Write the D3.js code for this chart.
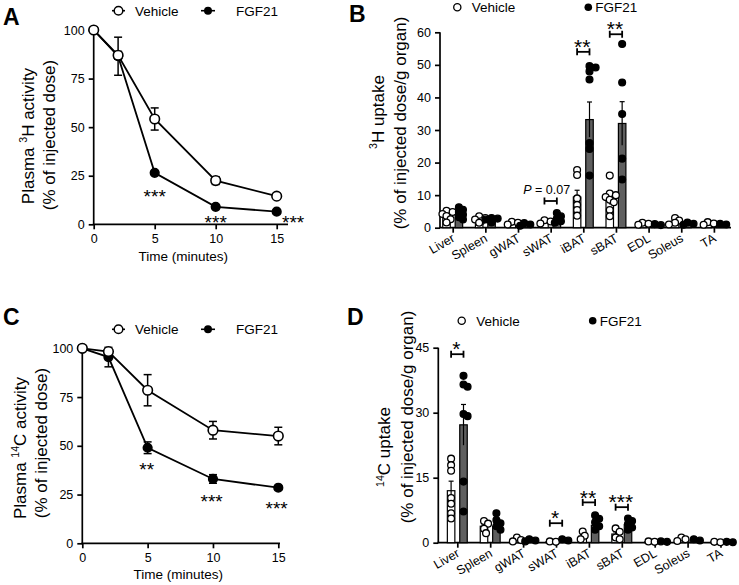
<!DOCTYPE html>
<html><head><meta charset="utf-8">
<script src="https://cdn.jsdelivr.net/npm/d3@7"></script>
<style>
body{margin:0;background:#fff}
svg{display:block}
text{font-family:Arial,"Liberation Sans",sans-serif;fill:#000}
</style></head>
<body><svg id="c" width="739" height="585"></svg>
<script>
// ---------------- DATA ----------------
const timePoints = [0, 2, 5, 10, 15];
const timeTicks = [0, 5, 10, 15];
const plasmaTicks = [0, 25, 50, 75, 100];

// Panel A: plasma 3H activity (% of injected dose)
const vehA = [100, 87, 54.2, 22.5, 14.5];
const vehASem = [0, 2, 5.7, 2, 1];
const fgfA = [100, 86.5, 26.5, 9, 6.5];
const fgfASem = [0, 9.8, 1, 1, 1];
const starsA = [{t: 5, v: 16.8, s: "***"}, {t: 10, v: 3.4, s: "***"}, {t: 16.35, v: 3.4, s: "***"}];

// Panel C: plasma 14C activity
const vehC = [100, 98.3, 78.5, 58, 55];
const vehCSem = [0, 1, 8, 4.5, 4.5];
const fgfC = [100, 95.5, 49, 33, 28.5];
const fgfCSem = [0, 5, 3, 2.2, 1];
const starsC = [{t: 4.93, v: 40.2, s: "**"}, {t: 9.9, v: 23.9, s: "***"}, {t: 14.87, v: 20.5, s: "***"}];

// Organs
const organs = ["Liver", "Spleen", "gWAT", "sWAT", "iBAT", "sBAT", "EDL", "Soleus", "TA"];

// Panel B: 3H uptake
const ticksB = [0, 10, 20, 30, 40, 50, 60];
const vehBMean = [4.0, 2.6, 1.4, 1.8, 9.4, 8.4, 1.2, 2.0, 1.2];
const vehBSem = [0.5, 0.3, 0.2, 0.2, 2.1, 1.3, 0.15, 0.3, 0.15];
const fgfBMean = [4.3, 2.5, 1.0, 2.6, 33.2, 32.0, 1.0, 1.2, 1.0];
const fgfBSem = [0.6, 0.3, 0.15, 0.5, 5.4, 6.7, 0.1, 0.15, 0.1];
const vehBPts = [
  [5.2, 4.8, 4.2, 3.6, 2.6, 1.6], [3.5, 3.0, 2.5, 2.0, 1.5], [1.8, 1.5, 1.0],
  [2.3, 1.9, 1.3], [17.7, 16.2, 9.0, 7.0, 5.4, 3.7],
  [16.0, 10.5, 10.0, 9.4, 8.6, 7.8, 5.4, 3.5], [1.5, 1.2, 0.9], [3.0, 2.2, 1.5, 1.0], [1.7, 1.3, 0.9]
];
const fgfBPts = [
  [6.3, 5.5, 4.8, 4.0, 3.2, 2.5], [3.0, 2.8, 2.5, 2.0, 1.6], [1.4, 1.0, 0.6],
  [4.5, 3.5, 2.8, 2.0, 1.5], [49.6, 49.2, 48.0, 45.5, 26.0, 24.2, 16.0],
  [56.4, 44.6, 34.9, 21.2, 14.8], [1.1, 0.8], [1.6, 1.2, 0.9], [1.2, 1.0]
];
const sigB = [{organ: "sWAT", v: 8.2, label: "P = 0.07"}, {organ: "iBAT", v: 54, label: "**"}, {organ: "sBAT", v: 59.4, label: "**"}];

// Panel D: 14C uptake
const ticksD = [0, 15, 30, 45];
const vehDMean = [12.0, 3.8, 0.7, 0.25, 1.5, 2.0, 0.2, 0.7, 0.15];
const vehDSem = [2.2, 0.5, 0.2, 0.05, 0.4, 0.5, 0.05, 0.15, 0.05];
const fgfDMean = [27.2, 3.8, 0.5, 0.6, 4.0, 4.2, 0.25, 0.6, 0.15];
const fgfDSem = [4.7, 0.5, 0.1, 0.1, 0.6, 0.5, 0.05, 0.1, 0.05];
const vehDPts = [
  [19.4, 17.9, 16.6, 10.3, 9.0, 6.8, 5.6], [5.0, 4.4, 3.2, 2.2], [1.2, 0.6, 0.3],
  [0.3, 0.2], [2.6, 1.6, 0.8], [3.3, 2.5, 1.2, 0.8], [0.3, 0.2], [1.2, 0.8, 0.4], [0.2, 0.1]
];
const fgfDPts = [
  [38.5, 36.5, 36.0, 29.7, 29.2, 14.1, 7.2], [6.8, 5.2, 4.5, 3.8, 3.0], [0.8, 0.5, 0.3],
  [0.8, 0.5], [6.3, 5.5, 4.7, 3.8, 3.0], [5.6, 5.0, 4.3, 3.5, 3.0], [0.3, 0.2], [0.8, 0.5], [0.2, 0.1]
];
const sigD = [{organ: "Liver", v: 43.5, label: "*"}, {organ: "sWAT", v: 4.5, label: "*"}, {organ: "iBAT", v: 9.3, label: "**"}, {organ: "sBAT", v: 8.2, label: "***"}];

// ---------------- DRAWING ----------------
const svg = d3.select("#c");
const AX = 1.7;

function starText(g, x, yc, s, fs) {
  g.append("text").attr("x", x).attr("y", yc + fs * 0.6).attr("text-anchor", "middle")
    .attr("font-size", fs).text(s);
}

function yTitle(g, x, cy, pre, sup, post, fs) {
  const t = g.append("text").attr("transform", `translate(${x},${cy}) rotate(-90)`)
    .attr("text-anchor", "middle").attr("font-size", fs);
  if (pre) t.append("tspan").text(pre);
  t.append("tspan").attr("font-size", fs * 0.62).attr("dy", -fs * 0.36).text(sup);
  t.append("tspan").attr("dy", fs * 0.36).text(post);
}
function yTitle2(g, x, cy, txt, fs) {
  g.append("text").attr("transform", `translate(${x},${cy}) rotate(-90)`)
    .attr("text-anchor", "middle").attr("font-size", fs).text(txt);
}

function lineChart(o) {
  const g = svg.append("g");
  const x = d3.scaleLinear().domain([0, 15]).range(o.xr);
  const y = d3.scaleLinear().domain([0, 100]).range(o.yr);
  const ya = g.append("g").attr("transform", `translate(${o.xr[0]},0)`)
    .call(d3.axisLeft(y).tickValues(plasmaTicks).tickSize(5).tickPadding(4).tickSizeOuter(0));
  const xa = g.append("g").attr("transform", `translate(0,${o.yr[0]})`)
    .call(d3.axisBottom(x).tickValues(timeTicks).tickSize(5).tickPadding(5).tickSizeOuter(0));
  [ya, xa].forEach(a => {
    a.selectAll("path.domain").remove();
    a.selectAll("line").attr("stroke-width", AX);
    a.selectAll("text").attr("font-size", 12.5).attr("font-family", "Arial,'Liberation Sans',sans-serif");
  });
  g.append("line").attr("x1", o.xr[0]).attr("x2", o.xr[0]).attr("y1", o.yr[0]).attr("y2", o.yr[1]).attr("stroke", "#000").attr("stroke-width", AX);
  g.append("line").attr("x1", o.xr[0] - AX / 2).attr("x2", o.xEnd).attr("y1", o.yr[0]).attr("y2", o.yr[0]).attr("stroke", "#000").attr("stroke-width", AX);
  g.append("text").attr("x", (o.xr[0] + o.xr[1]) / 2 - 2).attr("y", o.xTitleY).attr("text-anchor", "middle").attr("font-size", 13.5).text("Time (minutes)");
  yTitle(g, o.t1x, o.t1cy, o.pre, o.sup, o.post, 17);
  yTitle2(g, o.t2x, o.t2cy, "(% of injected dose)", 17);
  g.append("text").attr("x", o.letterX).attr("y", o.letterY).attr("font-size", 23).attr("font-weight", "bold").text(o.letter);

  const series = [
    {m: o.fgf, s: o.fgfSem, filled: true},
    {m: o.veh, s: o.vehSem, filled: false}
  ];
  series.forEach(se => {
    timePoints.forEach((t, i) => {
      if (se.s[i] <= 0) return;
      const cx = x(t), yt = y(se.m[i] + se.s[i]), yb = y(se.m[i] - se.s[i]);
      g.append("line").attr("x1", cx).attr("x2", cx).attr("y1", yt).attr("y2", yb).attr("stroke", "#000").attr("stroke-width", 1.5);
      [yt, yb].forEach(yy => g.append("line").attr("x1", cx - 4).attr("x2", cx + 4).attr("y1", yy).attr("y2", yy).attr("stroke", "#000").attr("stroke-width", 1.5));
    });
  });
  const line = d3.line().x((d, i) => x(timePoints[i])).y(d => y(d));
  series.forEach(se => g.append("path").attr("d", line(se.m)).attr("fill", "none").attr("stroke", "#000").attr("stroke-width", 1.8));
  series.forEach(se => {
    g.selectAll(null).data(se.m).enter().append("circle")
      .attr("cx", (d, i) => x(timePoints[i])).attr("cy", d => y(d))
      .attr("r", se.filled ? 4.3 : 4.8)
      .attr("fill", se.filled ? "#000" : "#fff").attr("stroke", "#000").attr("stroke-width", 1.6);
  });
  o.stars.forEach(s => starText(g, x(s.t), y(s.v), s.s, 19));
  const ly = o.legendY;
  g.append("line").attr("x1", 112).attr("x2", 125).attr("y1", ly).attr("y2", ly).attr("stroke", "#000").attr("stroke-width", 1.6);
  g.append("circle").attr("cx", 118.5).attr("cy", ly).attr("r", 4.3).attr("fill", "#fff").attr("stroke", "#000").attr("stroke-width", 1.5);
  g.append("text").attr("x", 135).attr("y", ly + 4.8).attr("font-size", 13.5).text("Vehicle");
  g.append("line").attr("x1", 201).attr("x2", 215).attr("y1", ly).attr("y2", ly).attr("stroke", "#000").attr("stroke-width", 1.6);
  g.append("circle").attr("cx", 208).attr("cy", ly).attr("r", 4).attr("fill", "#000");
  g.append("text").attr("x", 236).attr("y", ly + 4.8).attr("font-size", 13.5).text("FGF21");
}

function dodge(vals, y, r) {
  const placed = [];
  const sorted = vals.slice().sort((a, b) => b - a);
  const steps = [0, 1, -1, 2, -2, 3, -3].map(k => k * r * 0.6);
  return sorted.map(v => {
    const py = y(v);
    let off = 0;
    for (const c of steps) {
      if (placed.every(p => Math.hypot(p.x - c, p.y - py) >= 2 * r * 0.65)) { off = c; break; }
    }
    placed.push({x: off, y: py});
    return {v, dx: off, py};
  });
}

function barChart(o) {
  const g = svg.append("g");
  const x = d3.scalePoint().domain(organs).range(o.xr);
  const y = d3.scaleLinear().domain([0, o.ymax]).range(o.yr);
  const ya = g.append("g").attr("transform", `translate(${o.axisX},0)`)
    .call(d3.axisLeft(y).tickValues(o.ticks).tickSize(5).tickPadding(4).tickSizeOuter(0));
  const xa = g.append("g").attr("transform", `translate(0,${o.yr[0]})`)
    .call(d3.axisBottom(x).tickSize(5).tickSizeOuter(0));
  [ya, xa].forEach(a => {
    a.selectAll("path.domain").remove();
    a.selectAll("line").attr("stroke-width", AX);
  });
  ya.selectAll("text").attr("font-size", 12.5).attr("font-family", "Arial,'Liberation Sans',sans-serif");
  xa.selectAll("text").remove();
  organs.forEach(c => {
    g.append("text").attr("transform", `translate(${x(c) + o.lblDx},${o.yr[0] + o.lblDy}) rotate(-30)`)
      .attr("text-anchor", "end").attr("font-size", 12.5).text(c);
  });
  g.append("line").attr("x1", o.axisX).attr("x2", o.axisX).attr("y1", o.yr[0]).attr("y2", o.yr[1]).attr("stroke", "#000").attr("stroke-width", AX);
  g.append("line").attr("x1", o.axisX - AX / 2).attr("x2", o.xEnd).attr("y1", o.yr[0]).attr("y2", o.yr[0]).attr("stroke", "#000").attr("stroke-width", AX);

  yTitle(g, o.t1x, o.t1cy, "", o.sup, o.post, 17);
  yTitle2(g, o.t2x, o.t2cy, "(% of injected dose/g organ)", 17);
  g.append("text").attr("x", o.letterX).attr("y", o.letterY).attr("font-size", 23).attr("font-weight", "bold").text(o.letter);

  const bw = 7.5, off = 6.2, r = 3.4;
  const groups = [
    {mean: o.vm, sem: o.vs, pts: o.vp, dx: -off, fill: "#fff", dot: "#fff"},
    {mean: o.fm, sem: o.fs, pts: o.fp, dx: off, fill: "#5f5f5f", dot: "#000"}
  ];
  groups.forEach(gr => {
    organs.forEach((c, i) => {
      const cx = x(c) + gr.dx;
      g.append("rect").attr("x", cx - bw / 2).attr("y", y(gr.mean[i])).attr("width", bw)
        .attr("height", y(0) - y(gr.mean[i])).attr("fill", gr.fill).attr("stroke", "#000").attr("stroke-width", 1.2);
      const yt = y(gr.mean[i] + gr.sem[i]), yb = y(Math.max(0, gr.mean[i] - gr.sem[i]));
      g.append("line").attr("x1", cx).attr("x2", cx).attr("y1", yt).attr("y2", yb).attr("stroke", "#000").attr("stroke-width", 1.2);
      g.append("line").attr("x1", cx - 2.5).attr("x2", cx + 2.5).attr("y1", yt).attr("y2", yt).attr("stroke", "#000").attr("stroke-width", 1.2);
    });
  });
  groups.forEach(gr => {
    organs.forEach((c, i) => {
      const cx = x(c) + gr.dx;
      dodge(gr.pts[i], y, r).forEach(p => {
        g.append("circle").attr("cx", cx + p.dx).attr("cy", p.py).attr("r", r)
          .attr("fill", gr.dot).attr("stroke", "#000").attr("stroke-width", 1.3);
      });
    });
  });
  o.sig.forEach(s => {
    const x1 = x(s.organ) - off, x2 = x(s.organ) + off, yy = y(s.v);
    g.append("line").attr("x1", x1).attr("x2", x2).attr("y1", yy).attr("y2", yy).attr("stroke", "#000").attr("stroke-width", 1.8);
    [x1, x2].forEach(xx => g.append("line").attr("x1", xx).attr("x2", xx).attr("y1", yy - 3.5).attr("y2", yy + 3.5).attr("stroke", "#000").attr("stroke-width", 1.8));
    if (s.label.startsWith("P")) {
      const t = g.append("text").attr("x", x(s.organ) - 4).attr("y", yy - 7).attr("text-anchor", "middle").attr("font-size", 12.5);
      t.append("tspan").attr("font-style", "italic").text("P");
      t.append("tspan").text(s.label.slice(1));
    } else {
      starText(g, x(s.organ) - 1, yy - 10.5, s.label, 21);
    }
  });
  const ly = o.legendY;
  g.append("circle").attr("cx", o.legX1).attr("cy", ly).attr("r", 3.6).attr("fill", "#fff").attr("stroke", "#000").attr("stroke-width", 1.3);
  g.append("text").attr("x", o.legX1 + 14.5).attr("y", ly + 4.8).attr("font-size", 13.5).text("Vehicle");
  g.append("circle").attr("cx", o.legX2).attr("cy", ly).attr("r", 3.8).attr("fill", "#000");
  g.append("text").attr("x", o.legX2 + 7).attr("y", ly + 4.8).attr("font-size", 13.5).text("FGF21");
}

lineChart({xr: [93.7, 276.7], yr: [224.3, 30], xEnd: 288, xTitleY: 261, pre: "Plasma  ", sup: "3", post: "H activity",
  t1x: 33.5, t1cy: 136, t2x: 55, t2cy: 135, letter: "A", letterX: 3, letterY: 25, legendY: 10.7,
  veh: vehA, vehSem: vehASem, fgf: fgfA, fgfSem: fgfASem, stars: starsA});
lineChart({xr: [82.3, 278.3], yr: [543.3, 348.3], xEnd: 280, xTitleY: 579, pre: "Plasma ", sup: "14", post: "C activity",
  t1x: 25.5, t1cy: 448, t2x: 47, t2cy: 443, letter: "C", letterX: 3, letterY: 325, legendY: 329.3,
  veh: vehC, vehSem: vehCSem, fgf: fgfC, fgfSem: fgfCSem, stars: starsC});

barChart({xr: [452.7, 713.9], yr: [227.7, 32.3], ymax: 60, ticks: ticksB, axisX: 440, xEnd: 731,
  lblDx: 3, lblDy: 13, sup: "3", post: "H uptake", t1x: 383.5, t1cy: 112, t2x: 406, t2cy: 123,
  letter: "B", letterX: 349, letterY: 22, legendY: 7.3, legX1: 457.3, legX2: 588.3,
  vm: vehBMean, vs: vehBSem, fm: fgfBMean, fs: fgfBSem, vp: vehBPts, fp: fgfBPts, sig: sigB});
barChart({xr: [457.3, 720.5], yr: [542.7, 347.7], ymax: 45, ticks: ticksD, axisX: 438.3, xEnd: 733,
  lblDx: 3, lblDy: 13, sup: "14", post: "C uptake", t1x: 390, t1cy: 447, t2x: 413, t2cy: 417,
  letter: "D", letterX: 347, letterY: 325, legendY: 320.7, legX1: 461.7, legX2: 592.7,
  vm: vehDMean, vs: vehDSem, fm: fgfDMean, fs: fgfDSem, vp: vehDPts, fp: fgfDPts, sig: sigD});
</script></body></html>
